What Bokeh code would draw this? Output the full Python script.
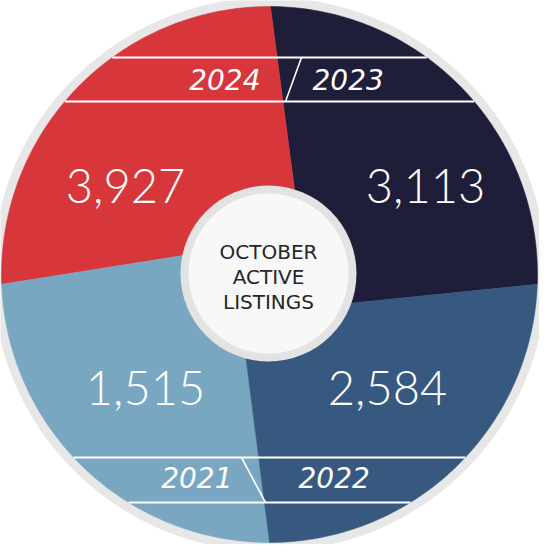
import numpy as np
from bokeh.plotting import figure
from bokeh.models import Range1d, ColumnDataSource
from bokeh.core.properties import value
from bokeh.embed import file_html
from bokeh.resources import INLINE

# ---- data ----
years = ["2023", "2024", "2021", "2022"]          # slices counter-clockwise from the right
listings = [3113, 3927, 1515, 2584]
slice_colors = ["#1F1E3A", "#D7373A", "#79A6C1", "#37597F"]
center_lines = ["OCTOBER", "ACTIVE", "LISTINGS"]

# ---- layout (pixel space, y grows downward) ----
CX, CY = 277.0, 282.0
R = 268.0
RING_R = 277.0
HUB_CX, HUB_CY = 276.0, 281.0
HUB_RING_R = 88.0
HUB_R = 80.0
# boundaries: right, top, left, bottom  (outer angle, inner angle, inner radius)
b_outer = [-2.1, 89.8, 182.1, 270.0]
b_inner = [-18.9, 73.4, 167.7, 254.6]
b_inner_r = [88.0, 88.0, 89.0, 88.0]
num_pos = [(433, 193), (133, 193), (153, 395), (395, 395)]
year_pos = [(320, 87, "left"), (268, 87, "right"), (240, 485, "right"), (306, 485, "left")]
bands = [(65, 109), (465, 510)]
slashes = [((309, 65), (293, 109)), ((249, 465), (273, 510))]


def pt(ang, r, cx=CX, cy=CY):
    a = np.deg2rad(ang)
    return cx + r * np.cos(a), cy - r * np.sin(a)


p = figure(width=539, height=544, x_range=Range1d(8, 547), y_range=Range1d(552, 8),
           output_backend="svg", toolbar_location=None, min_border=0)
p.axis.visible = False
p.grid.visible = False
p.outline_line_color = None
p.background_fill_color = "white"
p.border_fill_color = "white"

# outer ring
p.circle(x=[CX], y=[CY], radius=RING_R, fill_color="#E7E7E7", line_color=None)

xs, ys = [], []
for i in range(4):
    a0 = b_outer[i]
    a1 = b_outer[(i + 1) % 4]
    if a1 < a0:
        a1 += 360
    arc = np.linspace(a0, a1, 120)
    ix0, iy0 = pt(b_inner[i], b_inner_r[i])
    j = (i + 1) % 4
    ix1, iy1 = pt(b_inner[j], b_inner_r[j])
    px = [CX, ix0] + [pt(a, R)[0] for a in arc] + [ix1]
    py = [CY, iy0] + [pt(a, R)[1] for a in arc] + [iy1]
    xs.append(px)
    ys.append(py)

src = ColumnDataSource(dict(xs=xs, ys=ys, color=slice_colors))
p.patches("xs", "ys", source=src, fill_color="color", line_color="color", line_width=0.5)

# bands
sx0, sx1, sy = [], [], []
for (y0, y1) in bands:
    for y in (y0, y1):
        dx = np.sqrt(R ** 2 - (y - CY) ** 2)
        sx0.append(CX - dx)
        sx1.append(CX + dx)
        sy.append(y)
p.segment(x0=sx0, y0=sy, x1=sx1, y1=sy, line_color="white", line_width=2)
p.segment(x0=[s[0][0] for s in slashes], y0=[s[0][1] for s in slashes],
          x1=[s[1][0] for s in slashes], y1=[s[1][1] for s in slashes],
          line_color="white", line_width=1.6)

# hub
p.circle(x=[HUB_CX], y=[HUB_CY], radius=HUB_RING_R, fill_color="#E3E3E3", line_color=None)
p.circle(x=[HUB_CX], y=[HUB_CY], radius=HUB_R, fill_color="#F8F8F8", line_color=None)

# numbers
p.text(x=[q[0] for q in num_pos], y=[q[1] for q in num_pos],
       text=[f"{v:,}" for v in listings], text_align="center", text_baseline="middle",
       text_font=value("Lato Light"), text_font_size="47px", text_color="white")

# years
for (x, y, al), yr in zip(year_pos, years):
    p.text(x=[x], y=[y], text=[yr], text_align=al, text_baseline="middle",
           text_font=value("DejaVu Sans"), text_font_style="italic", text_font_size="28px",
           text_color="white")

# center title
p.text(x=[HUB_CX] * 3, y=[259, 284, 309], text=center_lines, text_align="center",
       text_baseline="middle", text_font=value("DejaVu Sans"), text_font_size="20px",
       text_color="#262626")

open("out.html", "w").write(file_html(p, INLINE))
